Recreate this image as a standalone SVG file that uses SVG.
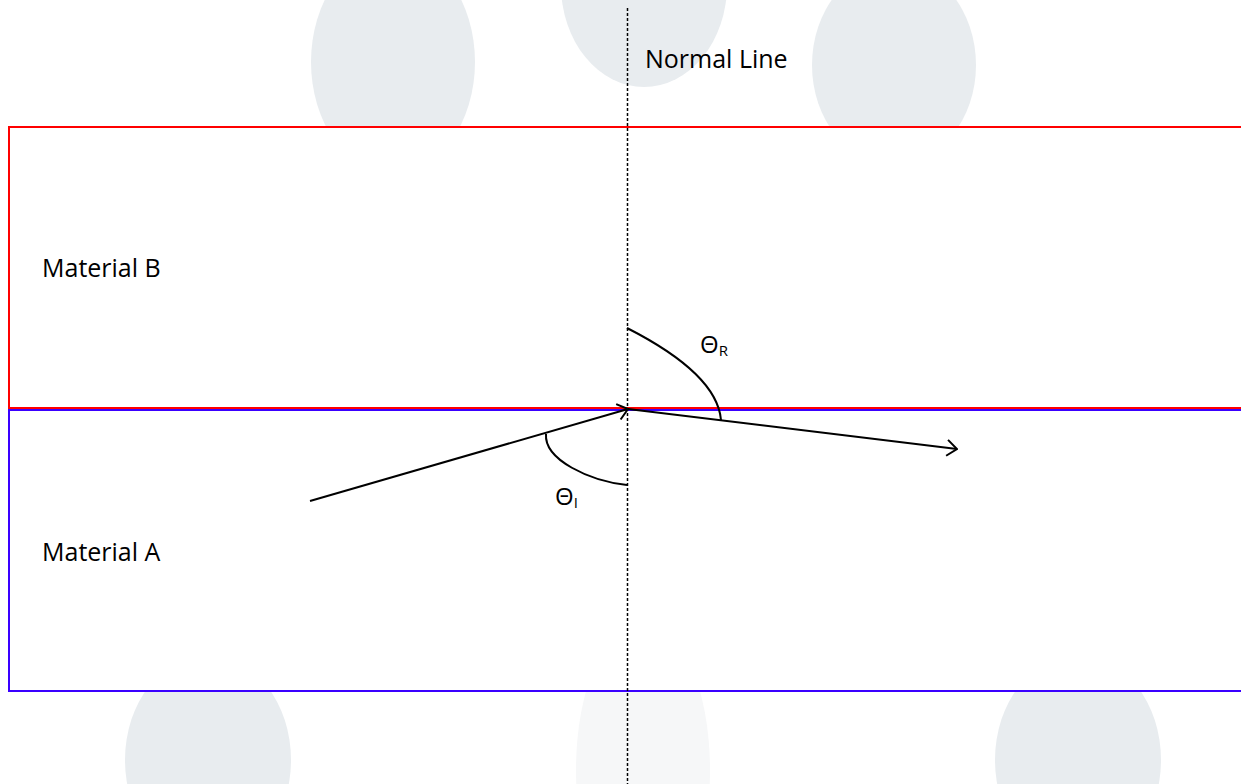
<svg xmlns="http://www.w3.org/2000/svg" width="1241" height="784" viewBox="0 0 1241 784">
  <style>
    .wm { fill: #e8ecef; }
    .wm2 { fill: #f6f7f8; }
    .lbl { font-family: "Open Sans", "Liberation Sans", sans-serif; font-size: 25px; fill: #000; }
    .theta { font-family: "Open Sans", "Liberation Sans", sans-serif; font-size: 24px; fill: #000; }
    .sub { font-size: 15px; }
    .ray { stroke: #000; stroke-width: 2; fill: none; }
    .arc { stroke: #000; stroke-width: 2; fill: none; }
  </style>
  <defs>
    <marker id="open" markerUnits="userSpaceOnUse" viewBox="0 0 12 18" refX="11" refY="9" markerWidth="12" markerHeight="18" orient="auto">
      <path d="M1,1 L11,9 L1,17" stroke="#000" stroke-width="2" fill="none"/>
    </marker>
  </defs>
  <rect width="1241" height="784" fill="#ffffff"/>
  <g id="watermark">
    <ellipse class="wm" cx="393" cy="62" rx="82" ry="112"/>
    <ellipse class="wm" cx="644" cy="-15" rx="83" ry="102"/>
    <ellipse class="wm" cx="894" cy="65" rx="82" ry="100"/>
    <ellipse class="wm" cx="208" cy="760" rx="83" ry="105"/>
    <ellipse class="wm2" cx="643" cy="770" rx="67" ry="150"/>
    <ellipse class="wm" cx="1078" cy="760" rx="83" ry="105"/>
  </g>
  <g id="material-b">
    <rect x="9" y="127" width="1240" height="281" fill="#ffffff" stroke="#ff0000" stroke-width="2"/>
    <text class="lbl" x="42" y="277">Material B</text>
  </g>
  <g id="material-a">
    <rect x="9" y="410" width="1240" height="281" fill="#ffffff" stroke="#3a00ff" stroke-width="2"/>
    <text class="lbl" x="42" y="561">Material A</text>
  </g>
  <g id="normal-line">
    <line x1="627.5" y1="8" x2="627.5" y2="784" stroke="#000" stroke-width="1.5" stroke-dasharray="3,2"/>
    <text class="lbl" x="645" y="68">Normal Line</text>
  </g>
  <g id="angles">
    <path class="arc" d="M546,434 C544,460 590,481 627,485"/>
    <path class="arc" d="M627,328 C680,355 718,385 721,420"/>
    <text class="theta" x="555" y="505">Θ<tspan class="sub" dy="3">I</tspan></text>
    <text class="theta" x="700" y="353">Θ<tspan class="sub" dy="3">R</tspan></text>
  </g>
  <g id="connectors">
    <line class="ray" x1="310" y1="501" x2="628" y2="409" marker-end="url(#open)"/>
    <line class="ray" x1="628" y1="409" x2="957" y2="449" marker-end="url(#open)"/>
  </g>
</svg>
